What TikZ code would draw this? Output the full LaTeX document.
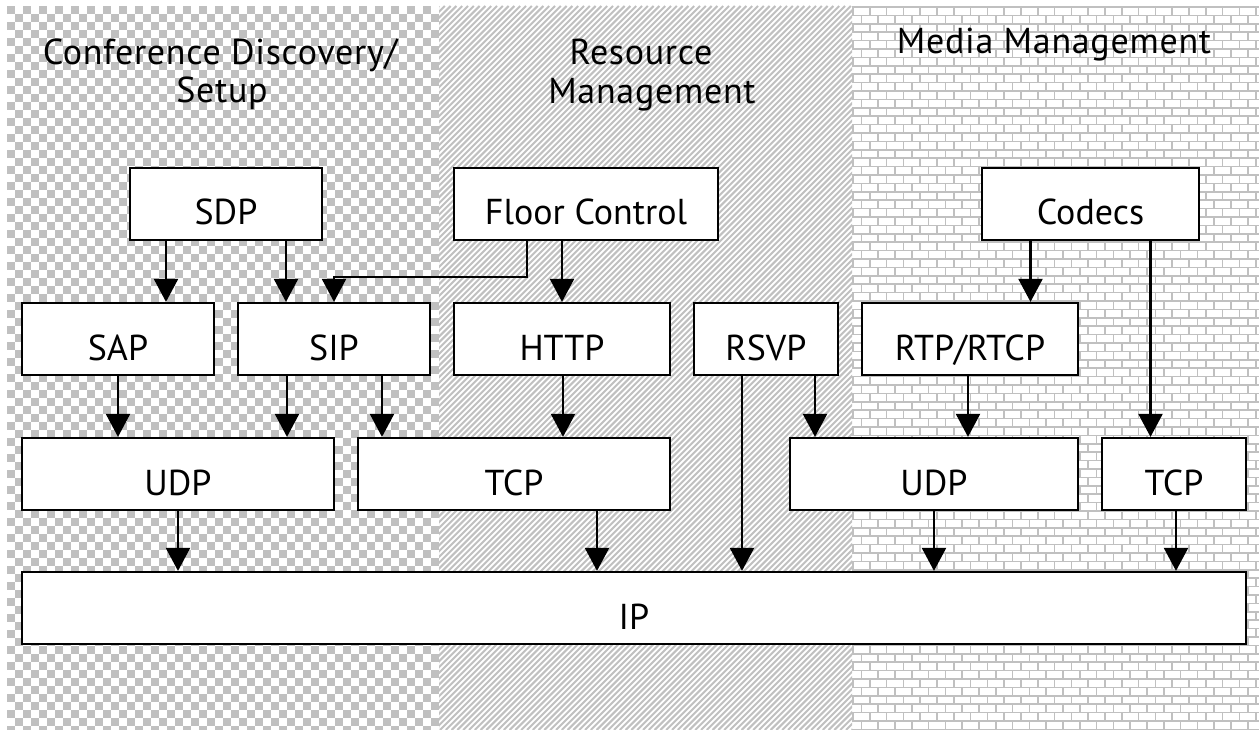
\documentclass[tikz,border=0pt]{standalone}
\usepackage{fontspec}
\setmainfont{PT Sans}
\newfontfamily\titlefont[LetterSpace=2]{PT Sans}
\usetikzlibrary{arrows.meta}
\definecolor{patgray}{RGB}{192,192,192}

\begin{document}
\begin{tikzpicture}[x=1pt,y=-1pt,
  box/.style={draw=black, fill=white, line width=2.2pt, inner sep=0pt,
    minimum height=72pt, text height=42pt, text depth=0pt,
    font=\fontsize{36}{40}\selectfont},
  conn/.style={line width=2.2pt, -{Triangle[length=23pt,width=24pt]}},
  title/.style={anchor=base, inner sep=0pt, font=\titlefont\fontsize{36}{40}\selectfont},
  patline/.style={draw=patgray, line width=1.6pt}]

\useasboundingbox (0,0) rectangle (1259,730);
\fill[white] (0,0) rectangle (1259,730);

% checkerboard band (conference discovery / setup)
\begin{scope}
  \clip (7,6) rectangle (439,730);
  \foreach \i in {0,...,91}{
    \pgfmathsetmacro\yy{6+(\i+0.5)*8}
    \pgfmathsetmacro\ph{mod(\i,2)*8}
    \draw[patgray, line width=8pt, dash pattern=on 8pt off 8pt,
          dash phase=\ph pt] (7,\yy) -- (439,\yy);
  }
\end{scope}

% diagonal hatch band (resource management)
\begin{scope}
  \clip (439,6) rectangle (852,730);
  \foreach \i in {0,...,200}{
    \pgfmathsetmacro\xx{439-724+\i*5.8}
    \draw[patgray, line width=2pt] (\xx,730) -- ++(724,-724);
  }
\end{scope}

% brick band (media management)
\begin{scope}
  \clip (852,6) rectangle (1259,730);
  \foreach \k in {0,...,87}{
    \pgfmathsetmacro\yy{7+\k*8.4}
    \draw[patline] (852,\yy) -- (1259,\yy);
  }
  \foreach \m in {0,...,49}{
    \pgfmathsetmacro\xx{853+\m*8.4}
    \pgfmathsetmacro\ph{mod(\m,2)*8.4}
    \draw[patline, dash pattern=on 8.4pt off 8.4pt, dash phase=\ph pt]
      (\xx,7) -- (\xx,740);
  }
\end{scope}

% band titles
\node[title] (tconf)  at (220,65)  {Conference Discovery/};
\node[title] (tsetup) at (222,103) {Setup};
\node[title] (tres)   at (641,65)  {Resource};
\node[title] (tman)   at (652,104) {Management};
\node[title] (tmed)   at (1054,54) {Media Management};

% protocol boxes
\node[box, minimum width=192pt] (sdp)    at (226,204)   {SDP};
\node[box, minimum width=264pt] (floor)  at (586,204)   {Floor Control};
\node[box, minimum width=217pt] (codecs) at (1090.5,204) {Codecs};

\node[box, minimum width=192pt] (sap)  at (118,339) {SAP};
\node[box, minimum width=192pt] (sip)  at (334,339) {SIP};
\node[box, minimum width=216pt] (http) at (562,339) {HTTP};
\node[box, minimum width=144pt] (rsvp) at (766,339) {RSVP};
\node[box, minimum width=216pt] (rtp)  at (970,339) {RTP/RTCP};

\node[box, minimum width=312pt] (udpa) at (178,474)  {UDP};
\node[box, minimum width=312pt] (tcpa) at (514,474)  {TCP};
\node[box, minimum width=288pt] (udpb) at (934,474)  {UDP};
\node[box, minimum width=144pt] (tcpb) at (1174,474) {TCP};

\node[box, minimum width=1224pt] (ip) at (634,608) {IP};

% connectors
\draw[conn] ([xshift=-60pt]sdp.south) -- ([xshift=-60pt]sdp.south |- sap.north);
\draw[conn] ([xshift=60pt]sdp.south)  -- ([xshift=60pt]sdp.south |- sip.north);
\draw[conn] ([xshift=-59pt]floor.south) -- ++(0,36) -| (sip.north);
\draw[conn] ([xshift=-24pt]floor.south) -- ([xshift=-24pt]floor.south |- http.north);
\draw[conn] ([xshift=-60pt]codecs.south) -- ([xshift=-60pt]codecs.south |- rtp.north);
\draw[conn] ([xshift=60pt]codecs.south)  -- ([xshift=60pt]codecs.south |- tcpb.north);

\draw[conn] (sap.south) -- (sap.south |- udpa.north);
\draw[conn] ([xshift=-47pt]sip.south) -- ([xshift=-47pt]sip.south |- udpa.north);
\draw[conn] ([xshift=48pt]sip.south)  -- ([xshift=48pt]sip.south |- tcpa.north);
\draw[conn] ([xshift=1pt]http.south) -- ([xshift=1pt]http.south |- tcpa.north);
\draw[conn] ([xshift=-24pt]rsvp.south) -- ([xshift=-24pt]rsvp.south |- ip.north);
\draw[conn] ([xshift=49pt]rsvp.south)  -- ([xshift=49pt]rsvp.south |- udpb.north);
\draw[conn] ([xshift=-2pt]rtp.south) -- ([xshift=-2pt]rtp.south |- udpb.north);

\draw[conn] (udpa.south) -- (udpa.south |- ip.north);
\draw[conn] ([xshift=83pt]tcpa.south) -- ([xshift=83pt]tcpa.south |- ip.north);
\draw[conn] (udpb.south) -- (udpb.south |- ip.north);
\draw[conn] ([xshift=2pt]tcpb.south) -- ([xshift=2pt]tcpb.south |- ip.north);
\end{tikzpicture}
\end{document}
